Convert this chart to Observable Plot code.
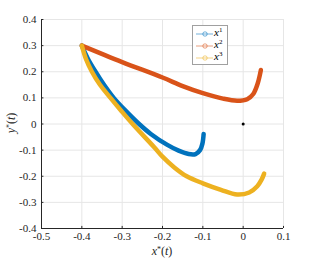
<!DOCTYPE html>
<html><head><meta charset="utf-8">
<script src="https://cdn.jsdelivr.net/npm/d3@7"></script>
<script src="https://cdn.jsdelivr.net/npm/@observablehq/plot@0.6"></script>
<style>
body{margin:0;background:#fff;}
#wrap{position:relative;width:312px;height:260px;font-family:"Liberation Serif",serif;}
#wrap svg text{font-family:"Liberation Serif",serif;}
#legend{position:absolute;left:192px;top:25px;width:34px;height:38px;border:1px solid #a0a0a0;background:#fff;font-family:"Liberation Serif",serif;font-size:11px;}
.row{position:absolute;left:0;height:12px;width:34px;}
.row svg{position:absolute;left:2px;top:0;}
.row span{position:absolute;left:21px;top:-2px;font-style:italic;}
.row sup{font-style:normal;font-size:7px;vertical-align:4px;}
</style></head>
<body><div id="wrap"></div>
<script>
const colors = ["#0072BD", "#D95319", "#EDB120"];
const names = ["x1", "x2", "x3"];
const x1x = [-0.4, -0.385, -0.366, -0.345, -0.321, -0.291, -0.258, -0.229, -0.188, -0.16, -0.135, -0.118, -0.107, -0.101, -0.098];
const x1y = [0.3, 0.25, 0.2, 0.15, 0.1, 0.05, 0.0, -0.038, -0.08, -0.102, -0.115, -0.115, -0.1, -0.075, -0.038];
const x2x = [-0.4, -0.3, -0.2, -0.15, -0.1, -0.05, -0.015, 0.01, 0.025, 0.036, 0.044];
const x2y = [0.3, 0.237, 0.178, 0.145, 0.118, 0.097, 0.089, 0.095, 0.115, 0.155, 0.207];
const x3x = [-0.4, -0.39, -0.375, -0.355, -0.329, -0.302, -0.274, -0.22, -0.2, -0.17, -0.14, -0.1, -0.055, -0.015, 0.015, 0.035, 0.046, 0.052];
const x3y = [0.3, 0.25, 0.2, 0.15, 0.1, 0.05, 0.0, -0.09, -0.125, -0.167, -0.2, -0.227, -0.252, -0.27, -0.262, -0.238, -0.212, -0.19];
const xTicks = [-0.5, -0.4, -0.3, -0.2, -0.1, 0, 0.1];
const yTicks = [-0.4, -0.3, -0.2, -0.1, 0, 0.1, 0.2, 0.3, 0.4];
const origin = [{x: 0, y: 0}];

const toRows = (xs, ys) => xs.map((x, i) => ({x, y: ys[i]}));
const series = [toRows(x1x, x1y), toRows(x2x, x2y), toRows(x3x, x3y)];
const fmt = d => (Math.round(d * 10) / 10).toString();

const plot = Plot.plot({
  width: 312, height: 260,
  marginLeft: 41, marginRight: 29, marginTop: 19, marginBottom: 32,
  style: "font-family: 'Liberation Serif', serif; font-size: 11px; color: #262626; background: #fff;",
  x: {domain: [-0.5, 0.1], ticks: xTicks, tickFormat: fmt, label: null},
  y: {domain: [-0.4, 0.4], ticks: yTicks, tickFormat: fmt, label: null},
  marks: [
    Plot.gridX(xTicks, {stroke: "#e6e6e6", strokeOpacity: 1}),
    Plot.gridY(yTicks, {stroke: "#e6e6e6", strokeOpacity: 1}),
    Plot.axisX(xTicks, {tickSize: 0, tickPadding: 4, tickFormat: fmt, fill: "#262626"}),
    Plot.axisY(yTicks, {tickSize: 0, tickPadding: 5, tickFormat: fmt, fill: "#262626"}),
    Plot.ruleX(xTicks, {x: d => d, y1: -0.4, y2: -0.392, stroke: "#262626"}),
    Plot.ruleY(yTicks, {y: d => d, x1: -0.5, x2: -0.494, stroke: "#262626"}),
    ...series.map((s, i) => Plot.line(s, {x: "x", y: "y", stroke: colors[i], strokeWidth: 4.5, curve: "catmull-rom", strokeLinecap: "round"})),
    Plot.dot(origin, {x: "x", y: "y", r: 1.5, fill: "#000"}),
    Plot.ruleX([-0.5], {stroke: "#262626"}),
    Plot.ruleY([-0.4], {stroke: "#262626"})
  ]
});
const wrap = document.getElementById("wrap");
wrap.appendChild(plot);
const svg = d3.select(plot);
function label(sel, v) {
  sel.append("tspan").attr("font-style", "italic").text(v);
  sel.append("tspan").attr("font-size", 8).attr("baseline-shift", "35%").text("*");
  sel.append("tspan").text("(");
  sel.append("tspan").attr("font-style", "italic").text("t");
  sel.append("tspan").text(")");
}
label(svg.append("text").attr("x", 162).attr("y", 255).attr("text-anchor", "middle")
  .attr("font-size", 12).attr("fill", "#262626"), "x");
label(svg.append("text").attr("transform", "translate(15,123) rotate(-90)").attr("text-anchor", "middle")
  .attr("font-size", 12).attr("fill", "#262626"), "y");

const legend = document.createElement("div");
legend.id = "legend";
names.forEach((n, i) => {
  const row = document.createElement("div");
  row.className = "row";
  row.style.top = (2 + i * 12) + "px";
  row.innerHTML = `<svg width="19" height="12"><line x1="1" y1="6" x2="18" y2="6" stroke="${colors[i]}" stroke-opacity="0.55" stroke-width="1"/><circle cx="10" cy="6" r="2.2" fill="none" stroke="${colors[i]}" stroke-opacity="0.55"/></svg><span>x<sup>${n.slice(1)}</sup></span>`;
  legend.appendChild(row);
});
wrap.appendChild(legend);
</script></body></html>
